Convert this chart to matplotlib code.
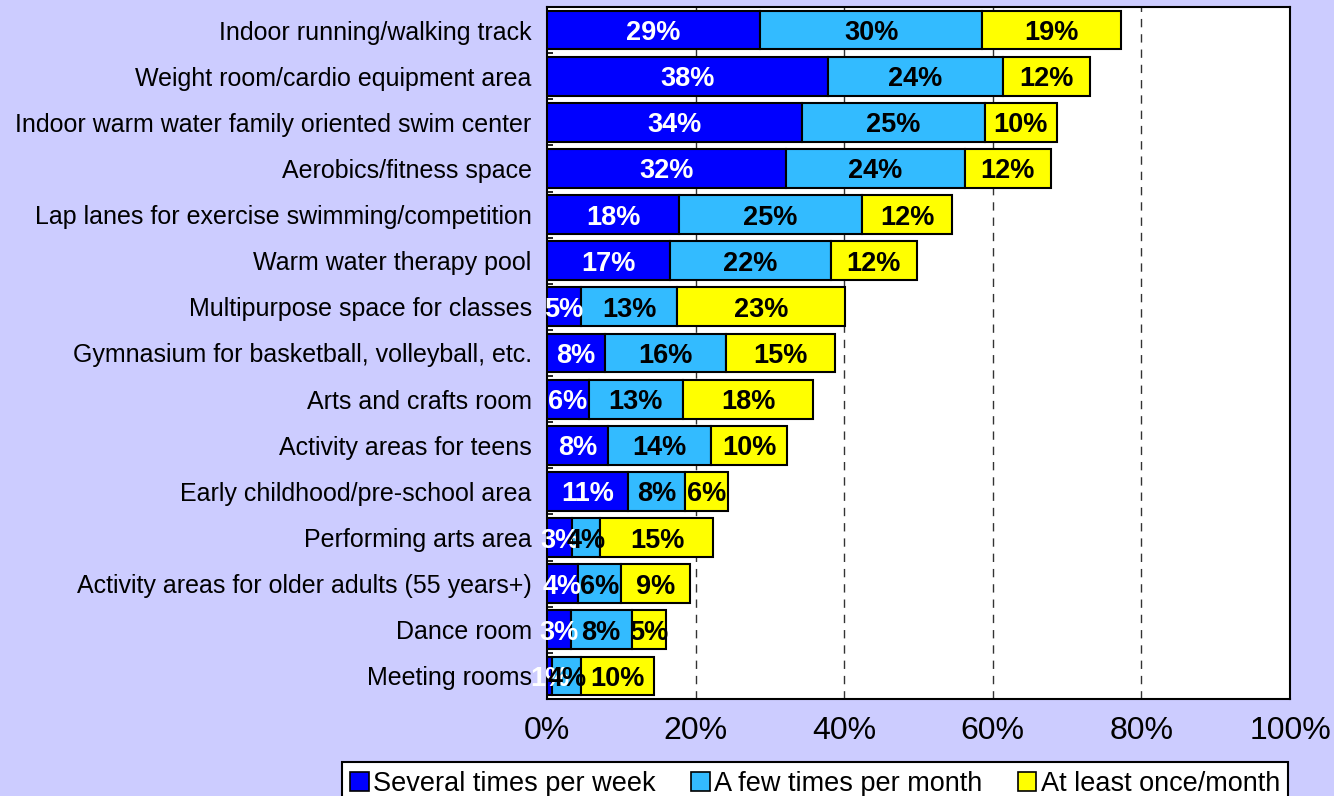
import matplotlib
matplotlib.use("Agg")
import matplotlib.pyplot as plt
import numpy as np
from matplotlib.ticker import FuncFormatter

categories = [
    "Indoor running/walking track",
    "Weight room/cardio equipment area",
    "Indoor warm water family oriented swim center",
    "Aerobics/fitness space",
    "Lap lanes for exercise swimming/competition",
    "Warm water therapy pool",
    "Multipurpose space for classes",
    "Gymnasium for basketball, volleyball, etc.",
    "Arts and crafts room",
    "Activity areas for teens",
    "Early childhood/pre-school area",
    "Performing arts area",
    "Activity areas for older adults (55 years+)",
    "Dance room",
    "Meeting rooms",
]
several_week = [28.7, 37.8, 34.3, 32.1, 17.8, 16.6, 4.6, 7.8, 5.6, 8.2, 10.9, 3.4, 4.2, 3.2, 0.7]
few_month = [29.9, 23.6, 24.6, 24.1, 24.6, 21.6, 12.9, 16.3, 12.7, 13.9, 7.7, 3.8, 5.8, 8.2, 3.9]
once_month = [18.7, 11.7, 9.7, 11.6, 12.1, 11.6, 22.6, 14.6, 17.5, 10.2, 5.8, 15.2, 9.2, 4.6, 9.8]
series_names = ["Several times per week", "A few times per month", "At least once/month"]
series_colors = ["#0000FF", "#33BBFF", "#FFFF00"]
label_colors = ["white", "black", "black"]
xticks = [0, 20, 40, 60, 80, 100]

plt.rcParams['font.family'] = ['Liberation Sans', 'DejaVu Sans']

fig = plt.figure(figsize=(13.34, 7.96), dpi=100)
fig.patch.set_facecolor("#CCCCFF")
ax = fig.add_axes([547/1334, 1-699/796, (1290-547)/1334, (699-7)/796])
ax.set_facecolor("white")

y = np.arange(len(categories))
left = np.zeros(len(categories))
series = [several_week, few_month, once_month]
for vals, name, col, lc in zip(series, series_names, series_colors, label_colors):
    vals = np.array(vals)
    ax.barh(y, vals, left=left, height=0.84, color=col, edgecolor="black",
            linewidth=1.5, label=name, zorder=3)
    for yi, l, v in zip(y, left, vals):
        ax.text(l + v/2, yi, f"{round(v):d}%", ha="center", va="center_baseline",
                color=lc, fontsize=19.5, fontweight="bold", zorder=4)
    left = left + vals

ax.set_xlim(0, 100)
ax.set_ylim(len(categories)-0.5, -0.5)
ax.set_yticks(y)
ax.set_yticklabels(categories, fontsize=18)
ax.set_yticks(np.arange(len(categories) + 1) - 0.5, minor=True)
ax.set_xticks(xticks)
ax.xaxis.set_major_formatter(FuncFormatter(lambda v, p: f"{int(v)}%"))
ax.tick_params(axis='x', labelsize=23, length=0, pad=12)
ax.tick_params(axis='y', which='major', length=0, pad=11)
ax.tick_params(axis='y', which='minor', length=4, width=1.2, direction='in', color='black')
for g in xticks[1:-1]:
    ax.axvline(g, color="#333333", linestyle=(0, (6, 5)), linewidth=1.0, zorder=1)
for s in ax.spines.values():
    s.set_linewidth(1.5)
    s.set_color("black")

leg = fig.legend(loc="lower center", bbox_to_anchor=(815/1334, -0.028), ncol=3,
                 fontsize=19.5, frameon=True, fancybox=False, edgecolor="black",
                 facecolor="white", framealpha=1.0,
                 handlelength=0.7, handleheight=0.7, handletextpad=0.15,
                 columnspacing=1.3, borderpad=0.3)
leg.get_frame().set_linewidth(1.5)
for h in leg.legend_handles:
    h.set_linewidth(1.2)

fig.savefig("out.png", dpi=100, facecolor=fig.get_facecolor())
